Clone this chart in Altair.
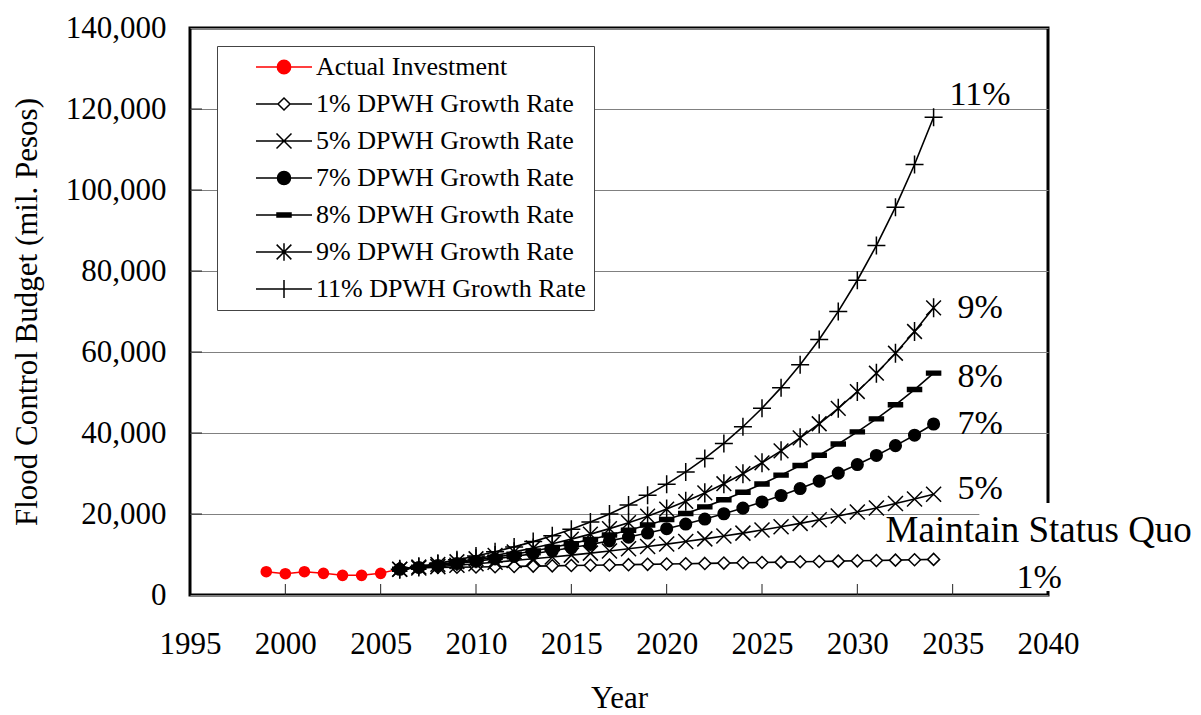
import altair as alt
import pandas as pd

FONT = "Liberation Serif"

# ---- data ----
actual_years = [1999, 2000, 2001, 2002, 2003, 2004, 2005, 2006]
actual_values = [5750, 5260, 5750, 5350, 4860, 4860, 5350, 6450]

growth_years = list(range(2006, 2035))
rate_1 = [6650, 6720, 6780, 6850, 6920, 6990, 7060, 7130, 7200, 7270, 7350, 7420, 7490, 7570, 7640,
          7720, 7800, 7880, 7950, 8030, 8110, 8200, 8280, 8360, 8440, 8530, 8610, 8700, 8790]
rate_5 = [6350, 6670, 7000, 7350, 7720, 8100, 8510, 8940, 9380, 9850, 10340, 10860, 11400, 11970, 12570,
          13200, 13860, 14550, 15280, 16050, 16850, 17690, 18580, 19500, 20480, 21500, 22580, 23710, 24890]
rate_7 = [6350, 6800, 7270, 7780, 8320, 8910, 9530, 10200, 10910, 11670, 12490, 13370, 14300, 15300, 16370,
          17520, 18750, 20060, 21460, 22970, 24570, 26290, 28130, 30100, 32210, 34460, 36880, 39460, 42220]
rate_8 = [6350, 6860, 7410, 8000, 8640, 9330, 10080, 10880, 11750, 12690, 13710, 14810, 15990, 17270, 18650,
          20140, 21760, 23500, 25380, 27410, 29600, 31970, 34520, 37280, 40270, 43490, 46970, 50720, 54780]
rate_9 = [6350, 6920, 7540, 8220, 8960, 9770, 10650, 11610, 12650, 13790, 15030, 16390, 17860, 19470, 21220,
          23130, 25210, 27480, 29950, 32650, 35590, 38790, 42280, 46090, 50240, 54760, 59690, 65060, 70910]
rate_11 = [6350, 7050, 7820, 8680, 9640, 10700, 11880, 13180, 14630, 16240, 18030, 20010, 22220, 24660, 27370,
           30380, 33720, 37430, 41550, 46120, 51200, 56830, 63080, 70020, 77720, 86270, 95760, 106290, 117980]

series_names = ["Actual Investment", "1% DPWH Growth Rate", "5% DPWH Growth Rate", "7% DPWH Growth Rate",
                "8% DPWH Growth Rate", "9% DPWH Growth Rate", "11% DPWH Growth Rate"]
growth_lists = [rate_1, rate_5, rate_7, rate_8, rate_9, rate_11]
end_labels = ["1%", "5%", "7%", "8%", "9%", "11%"]

x_ticks = list(range(1995, 2041, 5))
y_ticks = list(range(0, 140001, 20000))
inner_x_ticks = list(range(2000, 2036, 5))
inner_y_ticks = list(range(20000, 120001, 20000))

# ---- styles ----
W, H = 858, 567
plot_shapes = {
    "1% DPWH Growth Rate": ("M0,-1L1,0L0,1L-1,0Z", 144, "white"),
    "5% DPWH Growth Rate": ("M-1,-1L1,1M-1,1L1,-1", 225, "transparent"),
    "7% DPWH Growth Rate": ("circle", 135, "black"),
    "8% DPWH Growth Rate": ("M-1,-0.28H1V0.28H-1Z", 196, "black"),
    "9% DPWH Growth Rate": ("M-0.85,-0.85L0.85,0.85M-0.85,0.85L0.85,-0.85M0,-1.1V1.1", 300, "transparent"),
    "11% DPWH Growth Rate": ("M-1,0H1M0,-1V1", 324, "transparent"),
}
legend_paths = [
    "M-4,0H4M0.95,0A0.95,0.95 0 1,1 -0.95,0A0.95,0.95 0 1,1 0.95,0Z",
    "M-4,0H-0.86M0.86,0H4M0,-0.86L0.86,0L0,0.86L-0.86,0Z",
    "M-4,0H4M-1.07,-1.07L1.07,1.07M-1.07,1.07L1.07,-1.07",
    "M-4,0H4M0.93,0A0.93,0.93 0 1,1 -0.93,0A0.93,0.93 0 1,1 0.93,0Z",
    "M-4,0H4M-1,-0.28H1V0.28H-1Z",
    "M-4,0H4M-1.05,-1.05L1.05,1.05M-1.05,1.05L1.05,-1.05M0,-1.25V1.25",
    "M-4,0H4M0,-1.3V1.3",
]
legend_fills = ["red", "white", "transparent", "black", "black", "transparent", "transparent"]
legend_strokes = ["red", "black", "black", "black", "black", "black", "black"]

# label offsets (pixels) from each series' last point
label_offsets = {"1%": (83, 19), "5%": (24, -5), "7%": (24, 0), "8%": (24, 4), "9%": (24, 0), "11%": (16, -22)}

# ---- tables ----
actual_df = pd.DataFrame({"year": actual_years, "value": actual_values})
growth_df = pd.concat([
    pd.DataFrame({"year": growth_years, "value": vals, "series": name})
    for name, vals in zip(series_names[1:], growth_lists)
], ignore_index=True)
legend_df = pd.DataFrame({"series": series_names})

X = alt.X("year:Q",
          scale=alt.Scale(domain=[1995, 2040], nice=False, zero=False),
          axis=alt.Axis(values=x_ticks, format="d", grid=False, domain=False, ticks=False,
                        labelPadding=34, labelFlush=False, labelOverlap=False,
                        titlePadding=24),
          title="Year")
Y = alt.Y("value:Q",
          scale=alt.Scale(domain=[0, 140000], nice=False),
          axis=alt.Axis(values=y_ticks, format=",d", grid=True, gridColor="#808080", gridWidth=1,
                        domain=False, ticks=False, labelPadding=24, labelFlush=False,
                        labelOverlap=False, titlePadding=22),
          title="Flood Control Budget (mil. Pesos)")

layers = []

# inward x ticks
layers.append(
    alt.Chart(pd.DataFrame({"year": inner_x_ticks, "value": [0] * len(inner_x_ticks)}))
    .mark_rule(color="#222", strokeWidth=1)
    .encode(x=X, y=alt.value(H), y2=alt.value(H - 11))
)
# inward y ticks
layers.append(
    alt.Chart(pd.DataFrame({"year": [1995] * len(inner_y_ticks), "value": inner_y_ticks}))
    .mark_rule(color="#222", strokeWidth=1)
    .encode(y=Y, x=alt.value(0), x2=alt.value(12))
)

# actual investment
layers.append(alt.Chart(actual_df).mark_line(color="red", strokeWidth=1.5).encode(x=X, y=Y))
layers.append(alt.Chart(actual_df).mark_point(shape="circle", size=135, filled=True, color="red",
                                              opacity=1).encode(x=X, y=Y))

# growth series
for name in series_names[1:]:
    sub = growth_df[growth_df["series"] == name]
    path, size, fill = plot_shapes[name]
    layers.append(alt.Chart(sub).mark_line(color="black", strokeWidth=1.6).encode(x=X, y=Y))
    layers.append(alt.Chart(sub).mark_point(shape=path, size=size, fill=fill, stroke="black",
                                            strokeWidth=1.5, opacity=1, fillOpacity=1)
                  .encode(x=X, y=Y))

# white box behind "Maintain Status Quo"
layers.append(
    alt.Chart(pd.DataFrame({"a": [0]})).mark_rect(color="white")
    .encode(x=alt.datum(2036.4), x2=alt.datum(2045.5), y=alt.datum(1000), y2=alt.datum(22700))
)

# end labels
for name, lab in zip(series_names[1:], end_labels):
    sub = growth_df[growth_df["series"] == name].tail(1)
    dx, dy = label_offsets[lab]
    layers.append(alt.Chart(sub).mark_text(text=lab, align="left", baseline="middle", dx=dx, dy=dy,
                                           fontSize=34, font=FONT, color="black")
                  .encode(x=X, y=Y))
sub1 = growth_df[growth_df["series"] == series_names[1]].tail(1)
layers.append(alt.Chart(sub1).mark_text(text="Maintain Status Quo", align="left", baseline="middle",
                                        dx=-48, dy=-28, fontSize=37, font=FONT, color="black")
              .encode(x=X, y=Y))

# legend carrier
leg = alt.Legend(title=None, orient="none", legendX=27, legendY=18, padding=8,
                 fillColor="white", strokeColor="#444", labelFont=FONT, labelFontSize=26,
                 labelColor="black", labelLimit=500, symbolSize=196, symbolStrokeWidth=1.5,
                 symbolOffset=46, labelOffset=19, rowPadding=11)
layers.append(
    alt.Chart(legend_df).mark_point(size=196, strokeWidth=1.5, opacity=1)
    .encode(
        shape=alt.Shape("series:N", scale=alt.Scale(domain=series_names, range=legend_paths), legend=leg),
        fill=alt.Fill("series:N", scale=alt.Scale(domain=series_names, range=legend_fills), legend=leg),
        stroke=alt.Stroke("series:N", scale=alt.Scale(domain=series_names, range=legend_strokes), legend=leg),
    )
    .transform_filter("false")
)

chart = (
    alt.layer(*layers)
    .properties(width=W, height=H, padding={"left": 3, "top": 4, "right": 0, "bottom": 0})
    .configure(font=FONT)
    .configure_view(stroke="black", strokeWidth=3)
    .configure_axis(labelFont=FONT, titleFont=FONT, labelFontSize=31, titleFontSize=31,
                    labelColor="black", titleColor="black", titleFontWeight="normal")
)

chart.save("out.html", embed_options={"renderer": "svg", "actions": False})
